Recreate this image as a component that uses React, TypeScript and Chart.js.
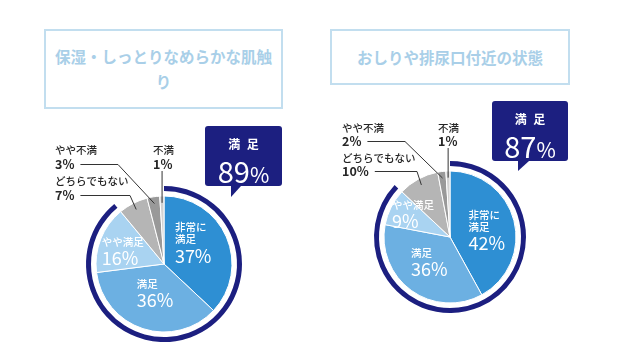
import React, { useEffect, useRef } from "react";
import { Chart, registerables } from "chart.js";

Chart.register(...registerables);

// ---------- data ----------
const categories = ["非常に満足", "満足", "やや満足", "どちらでもない", "やや不満", "不満"];
const sliceLabels = ["非常に\n満足", "満足", "やや満足", "どちらでもない", "やや不満", "不満"];
const skinValues = [37, 36, 16, 7, 3, 1];
const areaValues = [42, 36, 9, 10, 2, 1];
const skinTitle = "保湿・しっとりなめらかな肌触り";
const areaTitle = "おしりや排尿口付近の状態";
const satisfiedLabel = "満 足";
const satisfiedCount = 3; // 非常に満足 + 満足 + やや満足

// ---------- styles ----------
const FONT = '"Noto Sans CJK JP", "Noto Sans", sans-serif';
const sliceColors = ["#2e8fd3", "#6cb0e2", "#a9d3f1", "#b5b5b5", "#999999", "#d2d2d2"];
const NAVY = "#1c1f80";
const TITLE_COLOR = "#a9cfe8";
const TITLE_BORDER = "#c2deef";

type InsideSpec = { i: number; r: number; da: number };
type OutsideSpec = { i: number; x: number; nameY: number; pctY: number; elbowX?: number };
type Spec = {
  cx: number; cy: number; R: number; ring: number; gap: number; pie: number;
  inside: InsideSpec[]; outside: OutsideSpec[];
};

const leftSpec: Spec = {
  cx: 164, cy: 264, R: 78, ring: 5, gap: 5, pie: 68,
  inside: [
    { i: 0, r: 0.54, da: -14 },
    { i: 1, r: 0.43, da: 0 },
    { i: 2, r: 0.64, da: -3 },
  ],
  outside: [
    { i: 3, x: 55, nameY: 181, pctY: 195, elbowX: 130 },
    { i: 4, x: 55, nameY: 150, pctY: 164, elbowX: 118 },
    { i: 5, x: 153, nameY: 150, pctY: 164 },
  ],
};

const rightSpec: Spec = {
  cx: 450, cy: 237, R: 76, ring: 5, gap: 5, pie: 66,
  inside: [
    { i: 0, r: 0.57, da: 2 },
    { i: 1, r: 0.48, da: 5 },
    { i: 2, r: 0.67, da: 6 },
  ],
  outside: [
    { i: 3, x: 342, nameY: 158, pctY: 171, elbowX: 417 },
    { i: 4, x: 342, nameY: 128, pctY: 141, elbowX: 405 },
    { i: 5, x: 438, nameY: 128, pctY: 141 },
  ],
};

const W = 640;
const H = 364;

function makeLabelPlugin(values: number[], spec: Spec) {
  return {
    id: "pieLabels",
    afterDatasetsDraw(chart: any) {
      const ctx = chart.ctx as CanvasRenderingContext2D;
      const meta = chart.getDatasetMeta(2);
      ctx.save();
      // inside labels
      for (const s of spec.inside) {
        const arc: any = meta.data[s.i];
        const p = arc.getProps(["x", "y", "startAngle", "endAngle", "outerRadius"], true);
        const mid = (p.startAngle + p.endAngle) / 2 + (s.da * Math.PI) / 180;
        const ax = p.x + Math.cos(mid) * p.outerRadius * s.r;
        const ay = p.y + Math.sin(mid) * p.outerRadius * s.r;
        const lines = sliceLabels[s.i].split("\n");
        const pct = values[s.i] + "%";
        ctx.font = `500 10.5px ${FONT}`;
        let w = 0;
        for (const l of lines) w = Math.max(w, ctx.measureText(l).width);
        ctx.font = `400 18px ${FONT}`;
        w = Math.max(w, ctx.measureText(pct).width);
        const smallLH = 12;
        const pctGap = 16.5;
        const blockH = (lines.length - 1) * smallLH + pctGap;
        const left = ax - w / 2;
        const y = ay - blockH / 2;
        ctx.fillStyle = "#ffffff";
        ctx.textAlign = "left";
        ctx.textBaseline = "middle";
        ctx.font = `500 10.5px ${FONT}`;
        lines.forEach((l, k) => {
          ctx.fillText(l, left, y + k * smallLH);
        });
        ctx.font = `400 18px ${FONT}`;
        ctx.fillText(pct, left, y + (lines.length - 1) * smallLH + pctGap);
      }
      // outside labels with leader lines
      for (const o of spec.outside) {
        const arc: any = meta.data[o.i];
        const p = arc.getProps(["x", "y", "startAngle", "endAngle", "outerRadius"], true);
        const mid = (p.startAngle + p.endAngle) / 2;
        const r = p.outerRadius * 0.9;
        const px = p.x + Math.cos(mid) * r;
        const py = p.y + Math.sin(mid) * r;
        const pct = values[o.i] + "%";
        ctx.fillStyle = "#262626";
        ctx.textAlign = "left";
        ctx.textBaseline = "middle";
        ctx.font = `500 10.5px ${FONT}`;
        ctx.fillText(sliceLabels[o.i], o.x, o.nameY);
        ctx.font = `700 12.5px ${FONT}`;
        ctx.fillText(pct, o.x, o.pctY);
        const pw = ctx.measureText(pct).width;
        ctx.strokeStyle = "#333333";
        ctx.lineWidth = 1;
        ctx.beginPath();
        if (o.elbowX !== undefined) {
          ctx.moveTo(o.x + pw + 6, o.pctY + 0.5);
          ctx.lineTo(o.elbowX, o.pctY + 0.5);
          ctx.lineTo(px, py);
        } else {
          ctx.moveTo(px, o.pctY + 7);
          ctx.lineTo(px, py);
        }
        ctx.stroke();
      }
      ctx.restore();
    },
  };
}

function PieChart({ values, spec }: { values: number[]; spec: Spec }) {
  const ref = useRef<HTMLCanvasElement>(null);
  useEffect(() => {
    const satisfied = values.slice(0, satisfiedCount).reduce((a, b) => a + b, 0);
    const chart = new Chart(ref.current!, {
      type: "doughnut",
      data: {
        labels: categories,
        datasets: [
          {
            data: [satisfied, 100 - satisfied],
            backgroundColor: [NAVY, "rgba(0,0,0,0)"],
            borderWidth: 0,
            hoverBorderWidth: 0,
            hoverOffset: 0,
            weight: spec.ring,
          } as any,
          {
            data: [1],
            backgroundColor: ["rgba(0,0,0,0)"],
            borderWidth: 0,
            hoverBorderWidth: 0,
            hoverOffset: 0,
            weight: spec.gap,
          } as any,
          {
            data: values,
            backgroundColor: sliceColors,
            borderColor: "#ffffff",
            borderWidth: 1,
            hoverBorderWidth: 1,
            hoverOffset: 0,
            weight: spec.pie,
          } as any,
        ],
      },
      options: {
        responsive: false,
        animation: false,
        events: [],
        cutout: 0,
        layout: {
          padding: {
            left: spec.cx - spec.R,
            top: spec.cy - spec.R,
            right: W - (spec.cx + spec.R),
            bottom: H - (spec.cy + spec.R),
          },
        },
        plugins: {
          legend: { display: false },
          tooltip: { enabled: false },
          title: { display: false },
        },
      },
      plugins: [makeLabelPlugin(values, spec)],
    } as any);
    return () => chart.destroy();
  }, []);
  return (
    <canvas
      ref={ref}
      width={W}
      height={H}
      style={{ position: "absolute", left: 0, top: 0, width: W, height: H }}
    />
  );
}

function TitleBox({ text, left, top, width, height }: { text: string; left: number; top: number; width: number; height: number }) {
  return (
    <div
      style={{
        position: "absolute",
        left,
        top,
        width,
        height,
        boxSizing: "border-box",
        border: `2px solid ${TITLE_BORDER}`,
        display: "flex",
        alignItems: "center",
        justifyContent: "center",
        textAlign: "center",
        padding: "0 4px",
        color: TITLE_COLOR,
        fontFamily: FONT,
        fontWeight: 700,
        fontSize: 15.5,
        lineHeight: "25px",
      }}
    >
      {text}
    </div>
  );
}

function Callout({ values, left, top, width, height, tipW, tipH }: { values: number[]; left: number; top: number; width: number; height: number; tipW: number; tipH: number }) {
  const satisfied = values.slice(0, satisfiedCount).reduce((a, b) => a + b, 0);
  return (
    <>
      <div
        style={{
          position: "absolute",
          left,
          top,
          width,
          height,
          background: NAVY,
          borderRadius: 3,
          color: "#ffffff",
          textAlign: "center",
          fontFamily: FONT,
        }}
      >
        <div style={{ position: "absolute", top: 10, left: 0, right: 0, fontSize: 12, fontWeight: 700, lineHeight: "16px", letterSpacing: 2, paddingLeft: 2 }}>
          {satisfiedLabel}
        </div>
        <div style={{ position: "absolute", top: 27, left: 0, right: 0, fontSize: 29, fontWeight: 400, lineHeight: "34px" }}>
          {satisfied}
          <span style={{ fontSize: 21 }}>%</span>
        </div>
      </div>
      <div
        style={{
          position: "absolute",
          left: left + 26,
          top: top + height,
          width: 0,
          height: 0,
          borderLeft: `${tipW}px solid ${NAVY}`,
          borderBottom: `${tipH}px solid transparent`,
        }}
      />
    </>
  );
}

export default function App() {
  return (
    <div style={{ position: "absolute", left: 0, top: 0, width: W, height: H, background: "#ffffff", overflow: "hidden" }}>
      <TitleBox text={skinTitle} left={44} top={29} width={239} height={80} />
      <TitleBox text={areaTitle} left={330} top={29} width={240} height={56} />
      <PieChart values={skinValues} spec={leftSpec} />
      <PieChart values={areaValues} spec={rightSpec} />
      <Callout values={skinValues} left={205} top={126} width={77} height={60} tipW={10} tipH={11} />
      <Callout values={areaValues} left={492} top={101} width={76} height={60} tipW={11} tipH={10} />
    </div>
  );
}
